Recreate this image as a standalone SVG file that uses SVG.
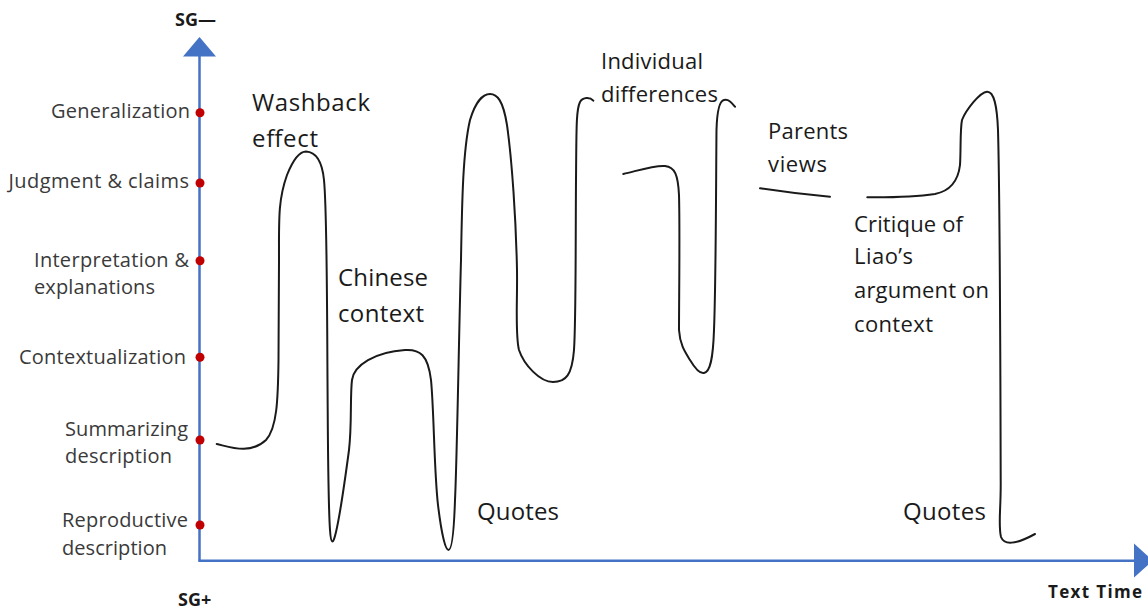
<svg xmlns="http://www.w3.org/2000/svg" width="1148" height="610" viewBox="0 0 1148 610">
  <style>
    .axis { stroke: #4472C4; stroke-width: 2.5; fill: none; }
    .head { fill: #4472C4; }
    .dot { fill: #C00000; }
    .lvl { font-family: "Open Sans", "Liberation Sans", sans-serif; font-size: 20px; fill: #3a3a3a; }
    .note { font-family: "Open Sans", "Liberation Sans", sans-serif; font-size: 24px; fill: #1a1a1a; }
    .small { font-family: "Open Sans", "Liberation Sans", sans-serif; font-size: 22px; fill: #1a1a1a; }
    .bold { font-family: "Open Sans", "Liberation Sans", sans-serif; font-size: 17px; font-weight: bold; fill: #1a1a1a; }
    .trace { fill: none; stroke: #1a1a1a; stroke-width: 2; stroke-linecap: round; stroke-linejoin: round; }
  </style>

  <rect width="1148" height="610" fill="#ffffff"/>

  <!-- axes -->
  <g id="axes">
    <line class="axis" x1="199.5" y1="560.7" x2="199.5" y2="54"/>
    <line class="axis" x1="198.3" y1="560.7" x2="1136" y2="560.7"/>
    <polygon class="head" points="199.5,37 183,56.5 216,56.5"/>
    <polygon class="head" points="1134,543.5 1134,577.5 1153,560.7"/>
    <text class="bold" x="175" y="26" style="font-size:18px">SG—</text>
    <text class="bold" x="178" y="606" style="font-size:18px">SG+</text>
    <text class="bold" x="1048" y="598" textLength="94">Text Time</text>
  </g>

  <!-- level markers on the vertical axis -->
  <g id="level-generalization">
    <circle class="dot" cx="200" cy="112.7" r="4.5"/>
    <text class="lvl" x="51" y="118" textLength="139">Generalization</text>
  </g>
  <g id="level-judgment">
    <circle class="dot" cx="200" cy="183" r="4.5"/>
    <text class="lvl" x="8.5" y="188" textLength="180.5">Judgment &amp; claims</text>
  </g>
  <g id="level-interpretation">
    <circle class="dot" cx="200" cy="260.7" r="4.5"/>
    <text class="lvl" x="34" y="267" textLength="155">Interpretation &amp;</text>
    <text class="lvl" x="34" y="294" textLength="121">explanations</text>
  </g>
  <g id="level-contextualization">
    <circle class="dot" cx="200" cy="357.3" r="4.5"/>
    <text class="lvl" x="19" y="364" textLength="167">Contextualization</text>
  </g>
  <g id="level-summarizing">
    <circle class="dot" cx="200" cy="440" r="4.5"/>
    <text class="lvl" x="65" y="436" textLength="123">Summarizing</text>
    <text class="lvl" x="65" y="463" textLength="107">description</text>
  </g>
  <g id="level-reproductive">
    <circle class="dot" cx="200" cy="525" r="4.5"/>
    <text class="lvl" x="62" y="527" textLength="126">Reproductive</text>
    <text class="lvl" x="62" y="555" textLength="105">description</text>
  </g>

  <!-- semantic wave traced over text time -->
  <g id="wave">
    <path class="trace" d="M216.7,444
      C230,447 250,455 266,440
      C277,428 278,400 278.5,360
      L279,260
      C279,220 278,200 287,175
      C293,160 300,151.5 306,151.5
      C316,152 322,160 324,180
      C327,210 327,300 327.5,380
      C328,450 328,500 330,530
      C331,545 333,545 336,532
      C340,515 345,480 349,450
      C352,425 350,395 352,380
      C354,365 375,352 405,350
      C420,349 428,355 431,380
      C434,410 434,470 438,505
      C441,530 445,550 448.5,550
      C452,550 454,530 455,500
      C457,460 459,330 461,260
      C462,200 463,150 470,120
      C476,100 484,94 490,94
      C497,94 503,100 507,125
      C512,160 516,220 517,270
      C517.5,300 515,335 519,350
      C524,365 540,382 553,382
      C566,382 572,375 574,350
      C576,320 575.5,250 576,180
      C576.5,130 576,110 580,102
      C583,97 590,97 593.3,100.7"/>
    <path class="trace" d="M623.3,174
      C640,170 655,165 665,166
      C675,167 678,175 679,195
      C680,230 679,300 679,330
      C680,345 685,352 690,360
      C696,370 700,374 704,373
      C710,372 713,360 714,330
      C716,280 716,180 716.5,130
      C717,112 719,101 724,100
      C729,99 732,103 735,106.7"/>
    <path class="trace" d="M760,188.3 C790,193 810,195 830,196.7"/>
    <path class="trace" d="M867.3,197.3
      C890,197.5 915,197 935,194
      C950,191 958,182 960,165
      C961,150 960,130 962,120
      C966,110 980,92 987,91.7
      C994,91.5 997,105 998,130
      C1000,200 1000.5,400 1000.7,480
      C1001,510 998,525 1001,537
      C1004,545 1015,545 1035,534"/>
  </g>

  <!-- phase annotations -->
  <g id="note-washback">
    <text class="note" x="252" y="110.7" textLength="118">Washback</text>
    <text class="note" x="252" y="147" textLength="66">effect</text>
  </g>
  <g id="note-chinese">
    <text class="note" x="338" y="286" textLength="90">Chinese</text>
    <text class="note" x="338" y="322" textLength="86">context</text>
  </g>
  <g id="note-quotes-1">
    <text class="note" x="477" y="520" textLength="82">Quotes</text>
  </g>
  <g id="note-individual">
    <text class="small" x="601" y="69" textLength="102">Individual</text>
    <text class="small" x="601" y="101.5" textLength="117">differences</text>
  </g>
  <g id="note-parents">
    <text class="small" x="768" y="139" textLength="80">Parents</text>
    <text class="small" x="768" y="171.7" textLength="59">views</text>
  </g>
  <g id="note-critique">
    <text class="small" x="854" y="231.7" textLength="109">Critique of</text>
    <text class="small" x="854" y="264.3" textLength="59">Liao’s</text>
    <text class="small" x="854" y="298" textLength="135">argument on</text>
    <text class="small" x="854" y="331.7" textLength="79">context</text>
  </g>
  <g id="note-quotes-2">
    <text class="note" x="903" y="520" textLength="83">Quotes</text>
  </g>
</svg>
